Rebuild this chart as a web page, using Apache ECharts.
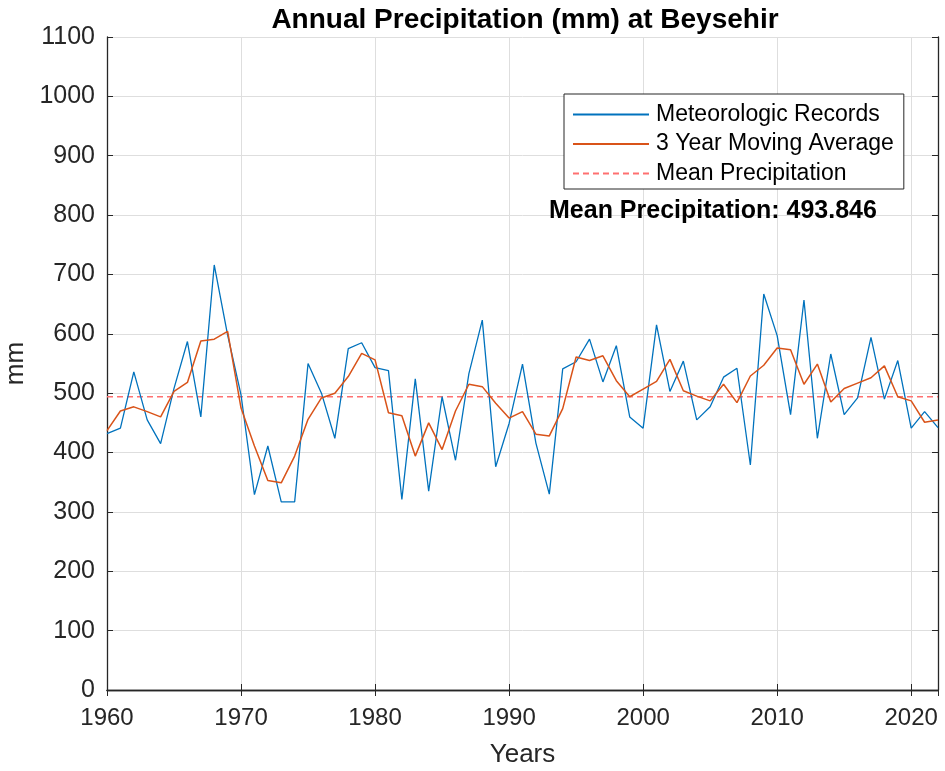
<!DOCTYPE html>
<html>
<head>
<meta charset="utf-8">
<script src="https://cdn.jsdelivr.net/npm/echarts@6/dist/echarts.min.js"></script>
<style>
html,body{margin:0;padding:0;background:#fff;}
#chart{width:945px;height:771px;}
</style>
</head>
<body>
<div id="chart"></div>
<script>
var years = [1960,1961,1962,1963,1964,1965,1966,1967,1968,1969,
  1970,1971,1972,1973,1974,1975,1976,1977,1978,1979,
  1980,1981,1982,1983,1984,1985,1986,1987,1988,1989,
  1990,1991,1992,1993,1994,1995,1996,1997,1998,1999,
  2000,2001,2002,2003,2004,2005,2006,2007,2008,2009,
  2010,2011,2012,2013,2014,2015,2016,2017,2018,2019,
  2020,2021,2022];
var records = [432,441,536,455,415,508,587,460,716,598,
  497,329,411,317,317,550,500,424,575,585,
  543,538,321,524,335,494,387,533,623,376,
  449,549,416,330,541,553,591,519,580,460,
  441,615,503,554,455,477,527,542,379,667,
  597,464,657,424,566,464,492,594,490,555,
  441,469,442];
var movingAvg = [437,470,477,469,460,503,518,588,591,604,
  475,411,353,349,394,456,492,500,528,567,
  556,467,462,394,450,405,470,515,511,483,
  458,469,431,428,474,561,555,563,521,494,
  507,520,557,504,495,487,515,484,529,547,
  576,573,515,549,485,508,517,526,546,494,
  487,451,455];
var meanValue = 493.846;
var meanYears = [1960, 2022];
var xTicks = [1960,1970,1980,1990,2000,2010,2020];
var yTicks = [0,100,200,300,400,500,600,700,800,900,1000,1100];

var seriesNames = ['Meteorologic Records','3 Year Moving Average','Mean Precipitation'];

function pairs(xs, ys){ return xs.map(function(x,i){ return [x, ys[i]]; }); }

var axisColor = '#262626';
var font = 'Liberation Sans, Arial, Helvetica, sans-serif';

var chart = echarts.init(document.getElementById('chart'), null, {renderer:'canvas'});
var option = {
  backgroundColor: '#ffffff',
  animation: false,
  title: {
    text: 'Annual Precipitation (mm) at Beysehir',
    left: 520, top: 1, textAlign: 'center',
    textStyle: {fontFamily: font, fontSize: 28, fontWeight: 'bold', color: '#000'}
  },
  legend: {
    data: seriesNames,
    orient: 'vertical',
    left: 564, top: 94,
    padding: [9, 10, 4, 8],
    itemWidth: 76, itemHeight: 14, itemGap: 6.5,
    backgroundColor: '#fff',
    borderColor: axisColor, borderWidth: 1, borderRadius: 0,
    itemStyle: {opacity: 0},
    textStyle: {fontFamily: font, fontSize: 23, color: '#000', padding: [0,0,0,2]}
  },
  grid: {left: 107, right: 7, top: 37, bottom: 81, containLabel: false, outerBoundsMode: 'none'},
  xAxis: [{
    type: 'value', min: 1960, max: 2022, interval: 10,
    name: 'Years', nameLocation: 'middle', nameGap: 52,
    nameTextStyle: {fontFamily: font, fontSize: 26, color: axisColor},
    axisLine: {show: true, lineStyle: {color: axisColor, width: 1.3}},
    axisTick: {show: true, inside: true, length: 6, lineStyle: {color: axisColor}},
    axisLabel: {fontFamily: font, fontSize: 24, color: axisColor, margin: 16,
      formatter: function(v){ return xTicks.indexOf(v) >= 0 ? String(v) : ''; }},
    splitLine: {show: true, lineStyle: {color: '#dedede', width: 1}}
  },{
    type: 'value', position: 'top', min: 1960, max: 2022, interval: 10,
    axisLine: {show: true, lineStyle: {color: axisColor, width: 1.3}},
    axisTick: {show: true, inside: true, length: 6, lineStyle: {color: axisColor}},
    axisLabel: {show: false}, splitLine: {show: false}
  }],
  yAxis: [{
    type: 'value', min: 0, max: 1100, interval: 100,
    name: 'mm', nameLocation: 'middle', nameGap: 71,
    nameTextStyle: {fontFamily: font, fontSize: 26, color: axisColor},
    axisLine: {show: true, lineStyle: {color: axisColor, width: 1.3}},
    axisTick: {show: true, inside: true, length: 6, lineStyle: {color: axisColor}},
    axisLabel: {fontFamily: font, fontSize: 25, color: axisColor, margin: 12,
      formatter: function(v){ return yTicks.indexOf(v) >= 0 ? String(v) : ''; }},
    splitLine: {show: true, lineStyle: {color: '#dedede', width: 1}}
  },{
    type: 'value', position: 'right', min: 0, max: 1100, interval: 100,
    axisLine: {show: true, lineStyle: {color: axisColor, width: 1.3}},
    axisTick: {show: true, inside: true, length: 6, lineStyle: {color: axisColor}},
    axisLabel: {show: false}, splitLine: {show: false}
  }],
  graphic: [{
    type: 'text', left: 549, top: 199, z: 100,
    style: {text: 'Mean Precipitation: ' + meanValue.toFixed(3),
      fontSize: 25, fontWeight: 'bold', fontFamily: font, fill: '#000'}
  }],
  series: [{
    name: seriesNames[0], type: 'line', data: pairs(years, records),
    symbol: 'none', lineStyle: {color: '#0072BD', width: 1.3}, itemStyle: {color: '#0072BD'}, z: 3
  },{
    name: seriesNames[1], type: 'line', data: pairs(years, movingAvg),
    symbol: 'none', lineStyle: {color: '#D95319', width: 1.5}, itemStyle: {color: '#D95319'}, z: 4
  },{
    name: seriesNames[2], type: 'line', data: pairs(meanYears, [meanValue, meanValue]),
    symbol: 'none', lineStyle: {color: '#FF7070', width: 1.5, type: [6, 4]}, itemStyle: {color: '#FF7070'}, z: 2
  }]
};
chart.setOption(option);
</script>
</body>
</html>
